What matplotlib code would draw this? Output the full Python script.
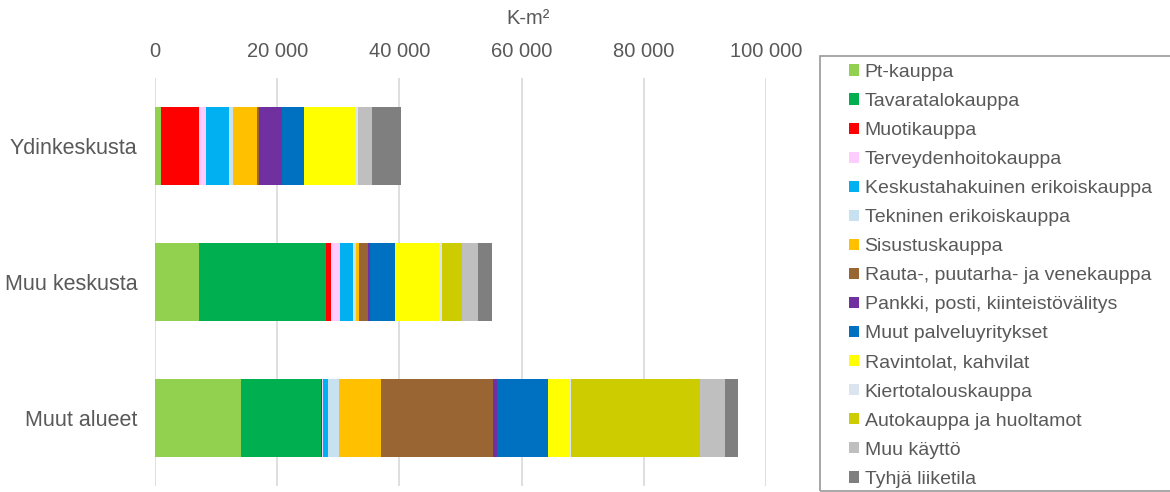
import numpy as np
import matplotlib.pyplot as plt
from matplotlib.patches import Rectangle

plt.rcParams['font.family'] = ['Liberation Sans', 'DejaVu Sans']

# alueet (ylhäältä alas)
alueet = ["Ydinkeskusta", "Muu keskusta", "Muut alueet"]

# kerrosala k-m2 käyttötarkoituksittain, järjestyksessä alueet
pt_kauppa = [900, 7100, 14050]
tavaratalo = [0, 20800, 13100]
muoti = [6300, 820, 200]
terveys = [1050, 1600, 200]
keskusta_erikois = [3900, 2100, 700]
tekninen = [550, 380, 1900]
sisustus = [4000, 500, 6800]
rauta = [330, 1600, 18400]
pankki = [3800, 270, 550]
muut_palvelu = [3500, 4150, 8500]
ravintolat = [8400, 7200, 3300]
kierto = [400, 380, 380]
autokauppa = [0, 3300, 21150]
muu_kaytto = [2400, 2600, 4050]
tyhja = [4750, 2400, 2250]

sarjat = [
    ("Pt-kauppa", pt_kauppa, "#92D050"),
    ("Tavaratalokauppa", tavaratalo, "#00B050"),
    ("Muotikauppa", muoti, "#FF0000"),
    ("Terveydenhoitokauppa", terveys, "#FFCCFF"),
    ("Keskustahakuinen erikoiskauppa", keskusta_erikois, "#00B0F0"),
    ("Tekninen erikoiskauppa", tekninen, "#C8E1F1"),
    ("Sisustuskauppa", sisustus, "#FFC000"),
    ("Rauta-, puutarha- ja venekauppa", rauta, "#996633"),
    ("Pankki, posti, kiinteistövälitys", pankki, "#7030A0"),
    ("Muut palveluyritykset", muut_palvelu, "#0070C0"),
    ("Ravintolat, kahvilat", ravintolat, "#FFFF00"),
    ("Kiertotalouskauppa", kierto, "#DAE5EF"),
    ("Autokauppa ja huoltamot", autokauppa, "#CCCC00"),
    ("Muu käyttö", muu_kaytto, "#BFBFBF"),
    ("Tyhjä liiketila", tyhja, "#7F7F7F"),
]

W, H = 1170, 492
fig = plt.figure(figsize=(W / 100, H / 100), dpi=100)
ax = fig.add_axes([155.3 / W, 1 - 486 / H, (765.7 - 155.3) / W, (486 - 77.7) / H])

y = np.arange(len(alueet))
left = np.zeros(len(alueet))
for nimi, arvot, vari in sarjat:
    arvot = np.array(arvot, dtype=float)
    ax.barh(y, arvot, left=left, height=0.57, color=vari, label=nimi, zorder=2)
    left += arvot

ax.set_xlim(0, 100000)
ax.set_ylim(2.5, -0.5)
ax.set_yticks(y)
ax.set_yticklabels(alueet, fontsize=15.5, color="#595959")
ticks = np.arange(0, 100001, 20000)
ax.set_xticks(ticks)
ax.set_xticklabels([f"{t:,}".replace(",", " ") for t in ticks], fontsize=14.5, color="#595959")
ax.xaxis.tick_top()
ax.tick_params(axis="x", length=0, pad=12)
ax.tick_params(axis="y", length=0, pad=13)
ax.grid(axis="x", color="#D9D9D9", linewidth=1.2, zorder=0)
for s in ax.spines.values():
    s.set_visible(False)

fig.text(528 / W, 1 - 18 / H, "K-m²", ha="center", va="center", fontsize=14.5, color="#595959")

# selitteen kehys
fig.patches.append(Rectangle((820 / W, 1 - 490.7 / H), 400 / W, (490.7 - 55.7) / H,
                             transform=fig.transFigure, fill=False,
                             edgecolor="#A0A0A0", linewidth=1.3))

leg = fig.legend(loc="upper left", bbox_to_anchor=(849 / W, 1 - 64 / H),
                 frameon=False, fontsize=14, borderpad=0, borderaxespad=0,
                 handlelength=0.52, handleheight=0.52, handletextpad=0.28,
                 labelspacing=0.62)
for t in leg.get_texts():
    t.set_color("#595959")

fig.savefig("out.png", dpi=100)
